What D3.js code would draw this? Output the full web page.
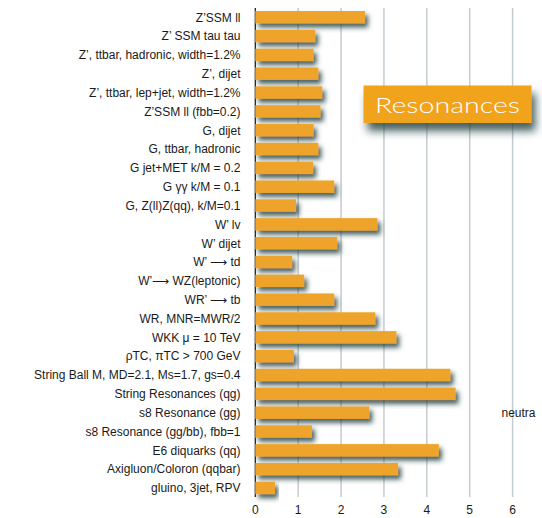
<!DOCTYPE html>
<html>
<head>
<meta charset="utf-8">
<script src="https://cdn.jsdelivr.net/npm/d3@7"></script>
<style>
  html, body { margin: 0; padding: 0; background: #fff; }
  svg { display: block; }
</style>
</head>
<body>
<div id="chart"></div>
<script>
// Mass limits (TeV) for each resonance search
const categories = [
  "Z’SSM ll",
  "Z’ SSM tau tau",
  "Z’, ttbar, hadronic, width=1.2%",
  "Z’, dijet",
  "Z’, ttbar, lep+jet, width=1.2%",
  "Z’SSM ll (fbb=0.2)",
  "G, dijet",
  "G, ttbar, hadronic",
  "G jet+MET k/M = 0.2",
  "G γγ k/M = 0.1",
  "G, Z(ll)Z(qq), k/M=0.1",
  "W’ lv",
  "W’ dijet",
  "W’ ⟶ td",
  "W’⟶ WZ(leptonic)",
  "WR’ ⟶ tb",
  "WR, MNR=MWR/2",
  "WKK μ = 10 TeV",
  "ρTC, πTC > 700 GeV",
  "String Ball M, MD=2.1, Ms=1.7, gs=0.4",
  "String Resonances (qg)",
  "s8 Resonance (gg)",
  "s8 Resonance (gg/bb), fbb=1",
  "E6 diquarks (qq)",
  "Axigluon/Coloron (qqbar)",
  "gluino, 3jet, RPV"
];
const limits = [
  2.56, 1.40, 1.36, 1.47, 1.56, 1.52,
  1.36, 1.47, 1.35, 1.84, 0.95,
  2.85, 1.91, 0.86, 1.14, 1.84, 2.80, 3.29, 0.90,
  4.55, 4.67, 2.66, 1.32, 4.28, 3.33, 0.46
];
const xTicks = [0, 1, 2, 3, 4, 5, 6];
const titleText = "Resonances";
const sideNote = "neutra";

const W = 542, H = 518;
const svg = d3.select("#chart").append("svg")
  .attr("width", W).attr("height", H);

const defs = svg.append("defs");
const barShadow = defs.append("filter").attr("id", "barShadow")
  .attr("x", "-10%").attr("y", "-50%").attr("width", "130%").attr("height", "220%");
barShadow.append("feDropShadow")
  .attr("dx", 3).attr("dy", 4).attr("stdDeviation", 2.4)
  .attr("flood-color", "#1d3838").attr("flood-opacity", 0.8);

const boxShadow = defs.append("filter").attr("id", "boxShadow")
  .attr("x", "-20%").attr("y", "-40%").attr("width", "150%").attr("height", "200%");
boxShadow.append("feDropShadow")
  .attr("dx", 4).attr("dy", 8).attr("stdDeviation", 4)
  .attr("flood-color", "#1d3838").attr("flood-opacity", 0.8);

const x = d3.scaleLinear().domain([0, 6]).range([255.3, 512.6]);
const y = d3.scaleBand().domain(categories)
  .range([7.8, 497.4]).paddingInner(0.34).paddingOuter(0.17);

const plotTop = 8, plotBottom = 497;

// vertical grid lines
svg.append("g").selectAll("line")
  .data(xTicks.filter(d => d > 0))
  .join("line")
  .attr("x1", d => x(d)).attr("x2", d => x(d))
  .attr("y1", plotTop).attr("y2", plotBottom)
  .attr("stroke", "#c3ccd0").attr("stroke-width", 1.5);

// category axis line
svg.append("line")
  .attr("x1", x(0)).attr("x2", x(0))
  .attr("y1", plotTop).attr("y2", plotBottom)
  .attr("stroke", "#111").attr("stroke-width", 1.2);

// bars
svg.append("g").selectAll("rect")
  .data(categories)
  .join("rect")
  .attr("x", x(0))
  .attr("y", d => y(d))
  .attr("width", (d, i) => x(limits[i]) - x(0))
  .attr("height", y.bandwidth())
  .attr("fill", "#eea42a")
  .attr("filter", "url(#barShadow)");

// category labels
svg.append("g").selectAll("text")
  .data(categories)
  .join("text")
  .attr("x", 240.5)
  .attr("y", d => y(d) + y.bandwidth() / 2)
  .attr("dy", "0.36em")
  .attr("text-anchor", "end")
  .attr("font-family", "'Liberation Sans', Arial, sans-serif")
  .attr("font-size", 12)
  .attr("fill", "#1a1a1a")
  .text(d => d);

// value axis tick labels
svg.append("g").selectAll("text")
  .data(xTicks)
  .join("text")
  .attr("x", d => x(d))
  .attr("y", 514)
  .attr("text-anchor", "middle")
  .attr("font-family", "'Liberation Sans', Arial, sans-serif")
  .attr("font-size", 12)
  .attr("fill", "#1a1a1a")
  .text(d => d);

// title box
const box = svg.append("g");
box.append("rect")
  .attr("x", 363.5).attr("y", 85.5)
  .attr("width", 168).attr("height", 37.5)
  .attr("fill", "#f2a31c")
  .attr("filter", "url(#boxShadow)");
box.append("text")
  .attr("x", 375).attr("y", 113)
  .attr("font-family", "Lato, 'DejaVu Sans', sans-serif")
  .attr("font-weight", 300)
  .attr("font-size", 22)
  .attr("textLength", 145).attr("lengthAdjust", "spacingAndGlyphs")
  .attr("fill", "#fff")
  .text(titleText);

// side note
svg.append("text")
  .attr("x", 501.5).attr("y", 417)
  .attr("font-family", "'Liberation Sans', Arial, sans-serif")
  .attr("font-size", 12)
  .attr("fill", "#1a1a1a")
  .text(sideNote);
</script>
</body>
</html>
